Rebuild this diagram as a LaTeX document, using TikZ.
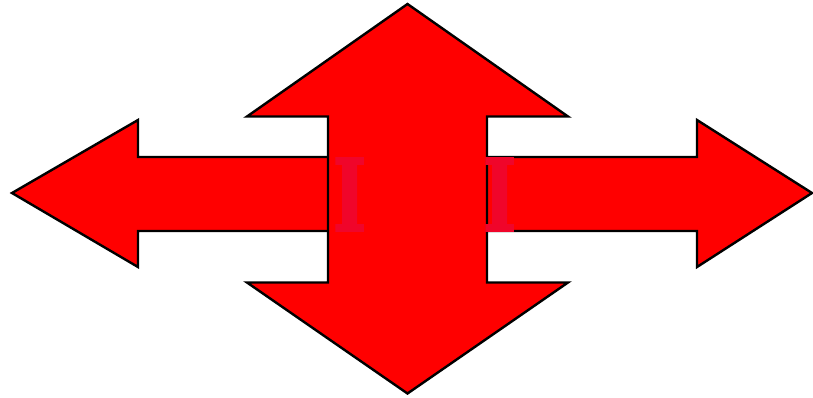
\documentclass[tikz,border=0pt]{standalone}
\usepackage{fontspec}
\newfontfamily\letterfont[FakeBold=2]{DejaVu Serif Bold}
\definecolor{arrowred}{RGB}{255,0,0}
\definecolor{letterred}{RGB}{240,5,42}
\begin{document}
\begin{tikzpicture}[x=1pt,y=-1pt,
  arrowshape/.style={fill=arrowred,draw=black,line width=2.4pt,line join=miter},
  letter/.style={text=letterred,inner sep=0pt,xscale=0.72,font=\letterfont\bfseries\fontsize{100}{100}\selectfont}]
\useasboundingbox (0,0) rectangle (813,397);
% left arrow
\path[arrowshape] (12,193) -- (138,120) -- (138,157) -- (400,157) -- (400,231) -- (138,231) -- (138,267) -- cycle;
% right arrow
\path[arrowshape] (812,193) -- (697,120) -- (697,157) -- (420,157) -- (420,231) -- (697,231) -- (697,267) -- cycle;
% vertical double arrow
\path[arrowshape] (407.5,4) -- (568,116.5) -- (487,116.5) -- (487,282.5) -- (568,282.5) -- (407.5,393.5)
  -- (247,282.5) -- (328,282.5) -- (328,116.5) -- (247,116.5) -- cycle;
% letters
\node[letter] (lI) at (349.5,194.5) {I};
\node[letter] (rI) at (499.5,194.5) {I};
\end{tikzpicture}
\end{document}
